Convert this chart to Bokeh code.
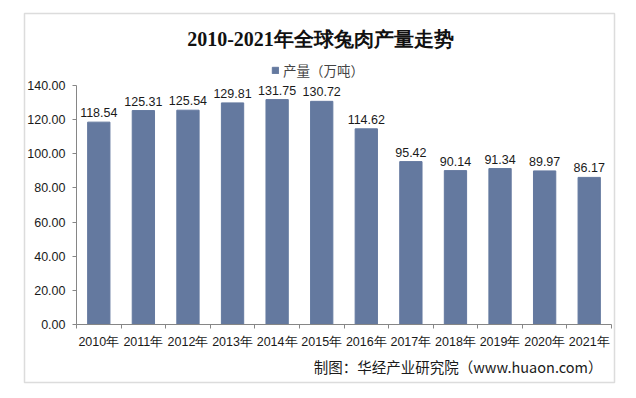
from bokeh.plotting import figure
from bokeh.models import (ColumnDataSource, FixedTicker, Label, Legend, LegendItem,
                          BoxAnnotation, LabelSet, NumeralTickFormatter, Range1d)
from bokeh.core.properties import value
from bokeh.embed import file_html
from bokeh.resources import INLINE

years = ["2010年", "2011年", "2012年", "2013年", "2014年", "2015年",
         "2016年", "2017年", "2018年", "2019年", "2020年", "2021年"]
values = [118.54, 125.31, 125.54, 129.81, 131.75, 130.72,
          114.62, 95.42, 90.14, 91.34, 89.97, 86.17]
y_ticks = [0, 20, 40, 60, 80, 100, 120, 140]

title_text = "2010-2021年全球兔肉产量走势"
legend_text = "产量（万吨）"
source_text = "制图：华经产业研究院（www.huaon.com）"

BAR = "#64799F"
AXIS = "#868686"
TXT = "#1a1a1a"

W, H = 620, 384
# plot-area placement in canvas pixels
AX_L, AX_R, AX_T, AX_B = 76, 611, 85, 324

n = len(years)
centers = [i + 0.5 for i in range(n)]
bounds = [float(i) for i in range(n + 1)]
src = ColumnDataSource(dict(x=centers, top=values,
                            lab=["%.2f" % v for v in values]))

ymax = y_ticks[-1]
xs = (AX_R - AX_L) / n
ys = (AX_B - AX_T) / ymax
x_range = Range1d(-AX_L / xs, n + (W - AX_R) / xs)
y_range = Range1d(-(H - AX_B) / ys, ymax + AX_T / ys)

p = figure(width=W, height=H, output_backend="svg", toolbar_location=None,
           x_range=x_range, y_range=y_range,
           min_border_left=0, min_border_right=0, min_border_top=0,
           min_border_bottom=0)
p.outline_line_color = None
p.grid.grid_line_color = None
p.background_fill_color = "white"
p.border_fill_color = "white"

r = p.vbar(x="x", top="top", width=0.5, source=src, color=BAR)

labels = LabelSet(x="x", y="top", text="lab", source=src, text_align="center",
                  text_baseline="bottom", y_offset=5,
                  text_font_size=value("12.5px"),
                  text_color=value(TXT), text_font=value("Liberation Sans"))
p.add_layout(labels)

# y axis
ya = p.yaxis[0]
ya.fixed_location = 0
ya.bounds = (0, ymax)
ya.ticker = FixedTicker(ticks=y_ticks)
ya.formatter = NumeralTickFormatter(format="0.00")
ya.axis_line_color = AXIS
ya.major_tick_line_color = AXIS
ya.major_tick_out = 4
ya.major_tick_in = 0
ya.minor_tick_line_color = None
ya.major_label_text_font_size = "12.5px"
ya.major_label_text_color = TXT
ya.major_label_text_font = "Liberation Sans"
ya.major_label_standoff = 7

# x axis
xa = p.xaxis[0]
xa.fixed_location = 0
xa.bounds = (0, n)
xa.ticker = FixedTicker(ticks=centers, minor_ticks=bounds)
xa.major_label_overrides = {c: y for c, y in zip(centers, years)}
xa.axis_line_color = AXIS
xa.major_tick_line_color = None
xa.minor_tick_line_color = AXIS
xa.minor_tick_out = 4
xa.minor_tick_in = 0
xa.major_label_text_font_size = "12.5px"
xa.major_label_text_color = TXT
xa.major_label_text_font = "Liberation Sans"
xa.major_label_standoff = 4

# outer border (screen units from frame bottom-left)
p.add_layout(BoxAnnotation(left=24, right=614, top=H - 13, bottom=H - 382,
                           left_units="screen", right_units="screen",
                           top_units="screen", bottom_units="screen",
                           fill_alpha=0, line_color="#8a8a8a", line_width=1.5))

p.add_layout(Label(x=320, y=H - 38, x_units="screen", y_units="screen",
                   text=title_text, text_align="center", text_baseline="middle",
                   text_font_size="20px", text_font_style="bold",
                   text_font="Liberation Serif", text_color="#111111"))

p.add_layout(Label(x=602, y=H - 366, x_units="screen", y_units="screen",
                   text=source_text, text_align="right", text_baseline="middle",
                   text_font_size="14.5px", text_font="Noto Sans CJK SC",
                   text_color=TXT))

legend = Legend(items=[LegendItem(label=legend_text, renderers=[r])],
                location=(271, H - 70 - 10), orientation="horizontal",
                glyph_width=8, glyph_height=8, padding=0, margin=0,
                label_text_font_size="13.5px", label_text_font="Noto Sans CJK SC",
                label_standoff=4, border_line_color=None,
                background_fill_alpha=0)
p.add_layout(legend)

open("out.html", "w").write(file_html(p, INLINE))
